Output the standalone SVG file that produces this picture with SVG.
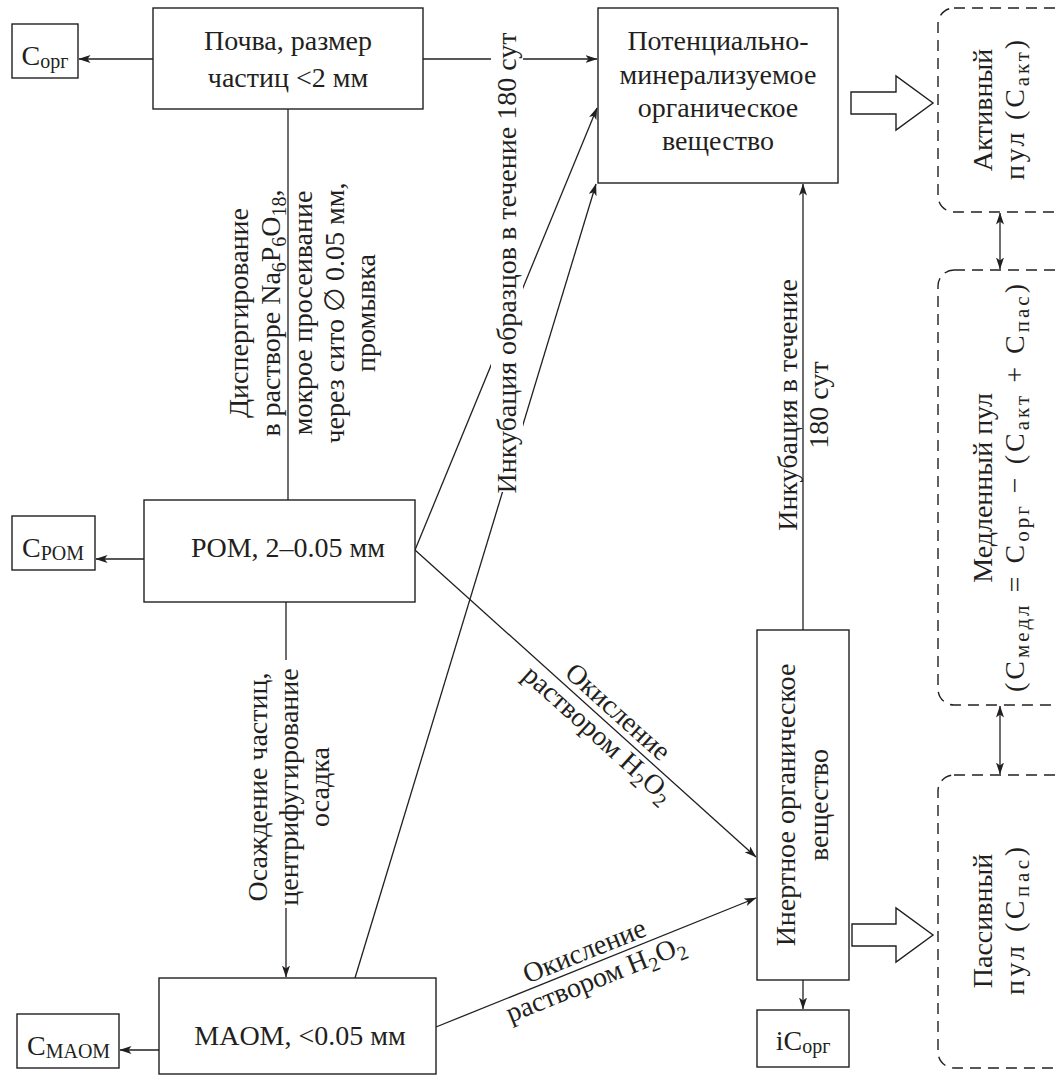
<svg xmlns="http://www.w3.org/2000/svg" width="1055" height="1077" viewBox="0 0 1055 1077">
<style>
.t{font-family:"Liberation Serif","Times New Roman",serif;font-size:28px;fill:#231f20}
.s{font-size:20px}
.s2{font-size:21px}
.box{fill:#fff;stroke:#231f20;stroke-width:1.4}
.dash{fill:#fff;stroke:#231f20;stroke-width:1.4;stroke-dasharray:11 7}
.ln{fill:none;stroke:#231f20;stroke-width:1.3}
.blk{fill:#fff;stroke:#231f20;stroke-width:1.4}
.wh{fill:#fff;stroke:none}
</style>
<defs>
<marker id="ah" viewBox="0 0 12 8" refX="11.5" refY="4" markerWidth="12" markerHeight="8" markerUnits="userSpaceOnUse" orient="auto-start-reverse"><path d="M0,0 L12,4 L0,8 L3,4 z" fill="#231f20"/></marker>
</defs>
<rect width="1055" height="1077" fill="#fff"/>

<g id="connectors">
<path class="ln" d="M153,59 H79" marker-end="url(#ah)"/>
<path class="ln" d="M423,59 H597" marker-end="url(#ah)"/>
<path class="ln" d="M288,109 V500"/>
<path class="ln" d="M144,559 H96" marker-end="url(#ah)"/>
<path class="ln" d="M286,602 V660 M286,908 V977" marker-end="url(#ah)"/>
<path class="ln" d="M159,1050 H120" marker-end="url(#ah)"/>
<path class="ln" d="M415,550 L597,108" marker-end="url(#ah)"/>
<path class="ln" d="M355,978 L596,184" marker-end="url(#ah)"/>
<path class="ln" d="M415,550 L756,857" marker-end="url(#ah)"/>
<path class="ln" d="M436,1027 L756,898" marker-end="url(#ah)"/>
<path class="ln" d="M803,630 V184" marker-end="url(#ah)"/>
<path class="ln" d="M803,980 V1009" marker-end="url(#ah)"/>
<path class="ln" d="M1000,213 V269" marker-start="url(#ah)" marker-end="url(#ah)"/>
<path class="ln" d="M1000,706 V774" marker-start="url(#ah)" marker-end="url(#ah)"/>
<polygon class="blk" points="851,92 896,92 896,76 933,103 896,130 896,114 851,114"/>
<polygon class="blk" points="852,924 896,924 896,908 933,935 896,962 896,946 852,946"/>

<rect class="wh" x="491" y="34" width="32" height="458"/>
<text class="t" transform="translate(516,263) rotate(-90)" text-anchor="middle">Инкубация образцов в течение 180 сут</text>

<text class="t" transform="translate(248,313) rotate(-90)" text-anchor="middle"><tspan x="0" dy="0">Диспергирование</tspan><tspan x="0" dy="32">в растворе Na</tspan><tspan class="s" dy="6">6</tspan><tspan dy="-6">P</tspan><tspan class="s" dy="6">6</tspan><tspan dy="-6">O</tspan><tspan class="s" dy="6">18</tspan><tspan dy="-6">,</tspan><tspan x="0" dy="32">мокрое просеивание</tspan><tspan x="0" dy="32">через сито ∅ 0.05 мм,</tspan><tspan x="0" dy="31">промывка</tspan></text>

<text class="t" transform="translate(267,787) rotate(-90)" text-anchor="middle"><tspan x="0" dy="0">Осаждение частиц,</tspan><tspan x="0" dy="31">центрифугирование</tspan><tspan x="0" dy="31">осадка</tspan></text>

<text class="t" transform="translate(608,723) rotate(41.9)" text-anchor="middle"><tspan x="0" dy="-6">Окисление</tspan><tspan x="0" dy="30">раствором H</tspan><tspan class="s" dy="6">2</tspan><tspan dy="-6">O</tspan><tspan class="s" dy="6">2</tspan></text>

<text class="t" transform="translate(590,965) rotate(-21.9)" text-anchor="middle"><tspan x="0" dy="-6">Окисление</tspan><tspan x="0" dy="30">раствором H</tspan><tspan class="s" dy="6">2</tspan><tspan dy="-6">O</tspan><tspan class="s" dy="6">2</tspan></text>

<text class="t" transform="translate(797,405) rotate(-90)" text-anchor="middle"><tspan x="0" dy="0">Инкубация в течение</tspan><tspan x="0" dy="31">180 сут</tspan></text>
</g>

<g id="n-corg">
<rect class="box" x="12" y="24" width="66" height="54"/>
<text class="t" x="45" y="65" text-anchor="middle">C<tspan class="s" dy="3">орг</tspan></text>
</g>
<g id="n-soil">
<rect class="box" x="153" y="8" width="270" height="101"/>
<text class="t" x="288" y="50" text-anchor="middle">Почва, размер</text>
<text class="t" x="288" y="87" text-anchor="middle">частиц &lt;2 мм</text>
</g>
<g id="n-potential">
<rect class="box" x="598" y="8" width="240" height="175"/>
<text class="t" text-anchor="middle"><tspan x="718" y="50">Потенциально-</tspan><tspan x="718" y="84">минерализуемое</tspan><tspan x="718" y="117">органическое</tspan><tspan x="718" y="150">вещество</tspan></text>
</g>
<g id="n-active">
<rect class="dash" x="938" y="8" width="160" height="204" rx="16"/>
<text class="t" transform="translate(992,110) rotate(-90)" text-anchor="middle">Активный</text>
<text class="t" transform="translate(1024,110) rotate(-90)" text-anchor="middle" textLength="140" lengthAdjust="spacing">пул (C<tspan class="s2" dy="5">акт</tspan><tspan dy="-5">)</tspan></text>
</g>
<g id="n-slow">
<rect class="dash" x="938" y="270" width="160" height="435" rx="16"/>
<text class="t" transform="translate(992,488) rotate(-90)" text-anchor="middle">Медленный пул</text>
<text class="t" transform="translate(1024,488) rotate(-90)" text-anchor="middle" textLength="408" lengthAdjust="spacing">(C<tspan class="s2" dy="5">медл</tspan><tspan dy="-5"> = C</tspan><tspan class="s2" dy="5">орг</tspan><tspan dy="-5"> − (C</tspan><tspan class="s2" dy="5">акт</tspan><tspan dy="-5"> + C</tspan><tspan class="s2" dy="5">пас</tspan><tspan dy="-5">)</tspan></text>
</g>
<g id="n-passive">
<rect class="dash" x="938" y="775" width="160" height="293" rx="16"/>
<text class="t" transform="translate(992,921) rotate(-90)" text-anchor="middle">Пассивный</text>
<text class="t" transform="translate(1024,921) rotate(-90)" text-anchor="middle" textLength="148" lengthAdjust="spacing">пул (C<tspan class="s2" dy="5">пас</tspan><tspan dy="-5">)</tspan></text>
</g>
<g id="n-cpom">
<rect class="box" x="12" y="516" width="83" height="54"/>
<text class="t" x="22" y="557">C<tspan class="s" dy="3">POM</tspan></text>
</g>
<g id="n-pom">
<rect class="box" x="144" y="500" width="271" height="102"/>
<text class="t" x="288" y="557" text-anchor="middle">POM, 2–0.05 мм</text>
</g>
<g id="n-cmaom">
<rect class="box" x="17" y="1014" width="102" height="54"/>
<text class="t" x="27" y="1055">C<tspan class="s" dy="3">MAOM</tspan></text>
</g>
<g id="n-maom">
<rect class="box" x="159" y="978" width="277" height="96"/>
<text class="t" x="300" y="1045" text-anchor="middle">MAOM, &lt;0.05 мм</text>
</g>
<g id="n-inert">
<rect class="box" x="757" y="630" width="92" height="350"/>
<text class="t" transform="translate(795,805) rotate(-90)" text-anchor="middle"><tspan x="0" dy="0">Инертное органическое</tspan><tspan x="0" dy="33">вещество</tspan></text>
</g>
<g id="n-icorg">
<rect class="box" x="757" y="1010" width="92" height="57"/>
<text class="t" x="803" y="1050" text-anchor="middle">iC<tspan class="s" dy="3">орг</tspan></text>
</g>
</svg>
